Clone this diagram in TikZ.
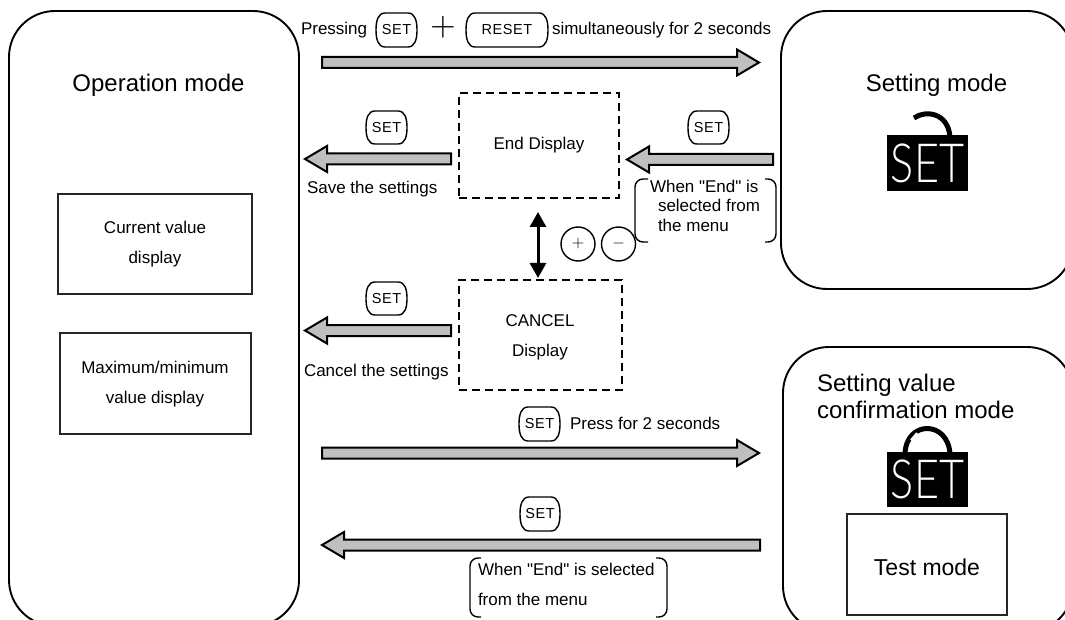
\documentclass[tikz,border=0pt]{standalone}
\usepackage{fontspec}
\setmainfont{Liberation Sans}
\newfontfamily\qf{Liberation Sans}
\newfontfamily\lockf{Lato Light}
\usetikzlibrary{calc,arrows.meta}
\tikzset{
  x=1pt,y=-1pt,
  modebox/.style={draw=black,line width=1.9pt,rounded corners=46pt,anchor=north west,inner sep=0,outer sep=0},
  plainbox/.style={draw=black!85,line width=1.3pt,anchor=north west,inner sep=0,outer sep=0},
  dashbox/.style={draw=black,line width=1.8pt,dash pattern=on 8pt off 5pt,anchor=north west,inner sep=0,outer sep=0},
  keytext/.style={anchor=north west,inner sep=0,outer sep=0,font=\fontsize{14.5}{16}\selectfont\addfontfeature{LetterSpace=4}},
  keyline/.style={draw=black,line width=1.4pt},
  roundkey/.style={draw=black,line width=1.4pt,circle,minimum size=34pt,inner sep=0,outer sep=0},
  bigtext/.style={anchor=base,inner sep=0,outer sep=0,font=\fontsize{24}{24}\selectfont},
  midtext/.style={anchor=base,inner sep=0,outer sep=0,font=\fontsize{17}{17}\selectfont},
  lefttext/.style={anchor=base west,inner sep=0,outer sep=0,font=\fontsize{17}{17}\selectfont\qf},
  bigleft/.style={anchor=base west,inner sep=0,outer sep=0,font=\fontsize{24}{24}\selectfont},
  blockarrow/.style={draw=black,fill=black!25,line width=2pt,miter limit=10},
  bracketline/.style={draw=black,line width=1.4pt,rounded corners=8pt},
  shackle/.style={draw=black,line width=5pt},
  lockbody/.style={fill=black,text=white,anchor=north west,inner sep=0,outer sep=0,font=\fontsize{54}{54}\selectfont\lockf},
}
% block arrow from tail coordinate #1 to tip coordinate #2; #3 = +1 rightwards, -1 leftwards
\newcommand{\blockarr}[3]{%
  \draw[blockarrow] ($(#1)+(0,-5.5)$) -- ($(#2)+(-22*#3,-5.5)$) -- ($(#2)+(-22*#3,-13)$) -- (#2)
    -- ($(#2)+(-22*#3,13)$) -- ($(#2)+(-22*#3,5.5)$) -- ($(#1)+(0,5.5)$) -- cycle;}
% key cap: flat top and bottom, bulging sides. name, position, width, height, text
\newcommand{\keycap}[5]{%
  \node[keytext,minimum width=#3pt,minimum height=#4pt] (#1) at (#2) {#5};
  \draw[keyline] ($(#1.north west)+(9,0)$) -- ($(#1.north east)+(-9,0)$)
    .. controls ($(#1.north east)+(-2,0)$) and ($(#1.east)+(0,-9)$) .. (#1.east)
    .. controls ($(#1.east)+(0,9)$) and ($(#1.south east)+(-2,0)$) .. ($(#1.south east)+(-9,0)$)
    -- ($(#1.south west)+(9,0)$)
    .. controls ($(#1.south west)+(2,0)$) and ($(#1.west)+(0,9)$) .. (#1.west)
    .. controls ($(#1.west)+(0,-9)$) and ($(#1.north west)+(2,0)$) .. cycle;}
\begin{document}
\begin{tikzpicture}
\useasboundingbox (0,0) rectangle (1065,620);
\clip (0,0) rectangle (1065,620);
% mode boxes
\node[modebox,minimum width=290pt,minimum height=615pt] (op) at (9,11) {};
\node[modebox,minimum width=292pt,minimum height=278pt] (setm) at (781,11) {};
\node[modebox,minimum width=290pt,minimum height=285pt] (conf) at (783,347) {};
\node[bigtext] (optxt) at (158.5,92) {Operation mode};
\node[bigtext] (settxt) at (936.5,92) {Setting mode};
\node[bigleft] (conf1) at (817,391) {Setting value};
\node[bigleft] (conf2) at (817,418) {confirmation mode};
% inner boxes
\node[plainbox,minimum width=194pt,minimum height=100pt] (cur) at (58,194) {};
\node[midtext] (cur1) at (155,234) {Current value};
\node[midtext] (cur2) at (155,264) {display};
\node[plainbox,minimum width=191pt,minimum height=101pt] (mm) at (60,333) {};
\node[midtext] (mm1) at (155,373) {Maximum/minimum};
\node[midtext] (mm2) at (155,403) {value display};
\node[plainbox,minimum width=160pt,minimum height=101pt] (test) at (847,514) {};
\node[anchor=base,inner sep=0,font=\fontsize{23}{23}\selectfont] (testt) at (927,575) {Test mode};
% dashed display boxes
\node[dashbox,minimum width=160pt,minimum height=105pt] (endd) at (459,93) {};
\node[midtext] (endt) at (539,150) {End Display};
\node[dashbox,minimum width=163pt,minimum height=110pt] (canc) at (459,280) {};
\node[midtext] (canc1) at (540,326) {CANCEL};
\node[midtext] (canc2) at (540,356) {Display};
% top line
\node[lefttext] (press) at (301,35) {Pressing};
\keycap{k1}{376,13}{41}{34}{\raisebox{-4pt}{SET}}
\node[anchor=center,inner sep=0] (plus) at (443,27) {\scalebox{3.3}{$+$}};
\keycap{k2}{466,13}{82}{34}{\raisebox{-4pt}{RESET}}
\node[lefttext] (simul) at (552,35) {simultaneously for 2 seconds};
\coordinate (a1s) at (322,62.5); \coordinate (a1e) at (759,62.5);
\blockarr{a1s}{a1e}{1}
% save row
\keycap{k3}{366,111}{41}{33}{SET}
\coordinate (a2s) at (451,159); \coordinate (a2e) at (305,159);
\blockarr{a2s}{a2e}{-1}
\node[lefttext] (save) at (307,194) {Save the settings};
\keycap{k4}{688,111}{41}{33}{SET}
\coordinate (a3s) at (773,159.5); \coordinate (a3e) at (627,159.5);
\blockarr{a3s}{a3e}{-1}
\draw[bracketline] (648,179) -- (635,179) -- (635,242) -- (648,242);
\draw[bracketline] (765,179) -- (776,179) -- (776,242) -- (765,242);
\node[lefttext] (w1) at (650,193) {When "End" is};
\node[lefttext] (w2) at (658,212) {selected from};
\node[lefttext] (w3) at (658,232) {the menu};
% up-down
\coordinate (ud1) at (538,212); \coordinate (ud2) at (538,278);
\draw[line width=3pt,{Triangle[length=15pt,width=16pt]}-{Triangle[length=15pt,width=16pt]}] (ud1) -- (ud2);
\node[roundkey] (kp) at (578,244) {\scalebox{1.6}{$+$}};
\node[roundkey] (km) at (618.5,244) {\scalebox{1.6}{$-$}};
% cancel row
\keycap{k5}{366,282}{41}{33}{SET}
\coordinate (a4s) at (451,330.5); \coordinate (a4e) at (305,330.5);
\blockarr{a4s}{a4e}{-1}
\node[lefttext] (cancl) at (304,376) {Cancel the settings};
% press row
\keycap{k6}{519,407}{41}{34}{\raisebox{-3pt}{SET}}
\node[lefttext] (pr2) at (570,429) {Press for 2 seconds};
\coordinate (a5s) at (322,453); \coordinate (a5e) at (759,453);
\blockarr{a5s}{a5e}{1}
% return row
\keycap{k7}{520,497}{40}{34}{SET}
\coordinate (a6s) at (760,545); \coordinate (a6e) at (322,545);
\blockarr{a6s}{a6e}{-1}
\draw[bracketline] (481,558) -- (470,558) -- (470,617) -- (481,617);
\draw[bracketline] (656,558) -- (667,558) -- (667,617) -- (656,617);
\node[lefttext] (r1) at (478,575) {When "End" is selected};
\node[lefttext] (r2) at (478,605) {from the menu};
% padlocks
\draw[shackle] (914,118) .. controls (925,110) and (948,112) .. (950,137);
\node[lockbody,minimum width=81pt,minimum height=56pt] (lock1) at (887,135) {\scalebox{0.8}[1]{SET}};
\draw[shackle] (905,454) .. controls (906,420) and (948,420) .. (950,454);
\draw[white,line width=2pt] (911,440) -- (917,433);
\node[lockbody,minimum width=81pt,minimum height=55pt] (lock2) at (887,452) {\scalebox{0.8}[1]{SET}};
\end{tikzpicture}
\end{document}
